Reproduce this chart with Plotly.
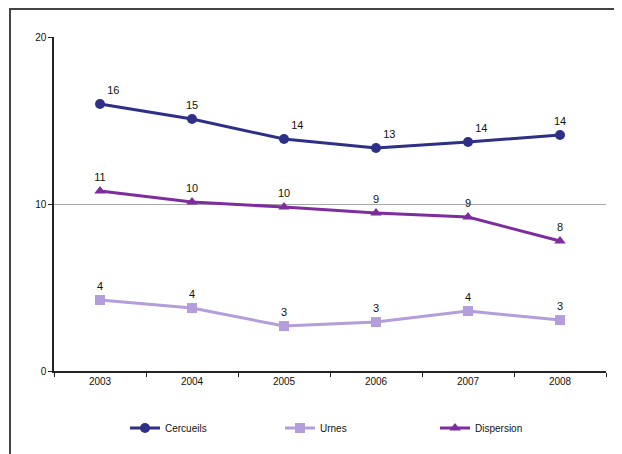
import plotly.graph_objects as go

years = ["2003", "2004", "2005", "2006", "2007", "2008"]
cercueils = [15.99, 15.09, 13.89, 13.35, 13.71, 14.13]
urnes = [4.25, 3.77, 2.69, 2.93, 3.59, 3.05]
dispersion = [10.78, 10.12, 9.82, 9.46, 9.22, 7.78]

series_names = ["Cercueils", "Urnes", "Dispersion"]
colors = ["#2E2F87", "#B39DDB", "#7D2D9E"]
symbols = ["circle", "square", "triangle-up"]

cerc_pos = ["top right", "top center", "top right", "top right", "top right", "top center"]

W, H = 614, 446
L, R, T, B = 46, 16, 29, 83
pw, ph = W - L - R, H - T - B

fig = go.Figure()
for name, vals, col, sym, pos in zip(series_names, [cercueils, urnes, dispersion], colors, symbols,
                                     [cerc_pos, "top center", "top center"]):
    fig.add_trace(go.Scatter(
        x=years, y=vals, name=name, mode="lines+markers+text",
        line=dict(color=col, width=3),
        marker=dict(color=col, symbol=sym, size=10),
        texttemplate="%{y:.0f}", textposition=pos,
        textfont=dict(family="Liberation Sans, Arial", size=11, color="#111111"),
        cliponaxis=False,
    ))

fig.update_layout(
    width=W, height=H,
    margin=dict(l=L, r=R, t=T, b=B),
    paper_bgcolor="white", plot_bgcolor="white",
    font=dict(family="Liberation Sans, Arial", size=10, color="#111111"),
    showlegend=True,
    legend=dict(orientation="h", x=(117 - L) / pw, xanchor="left", y=-57 / ph, yanchor="middle",
                entrywidth=110, font=dict(size=10), itemwidth=30),
    xaxis=dict(type="category", range=[-0.5, 5.5], showline=True, linecolor="#222222", linewidth=1.5,
               ticks="outside", tickson="boundaries", ticklen=4, tickcolor="#222222",
               showgrid=False, tickfont=dict(size=10, color="#111111")),
    yaxis=dict(range=[0, 20], tickvals=[0, 10, 20], showline=True, linecolor="#222222", linewidth=1.5,
               ticks="outside", ticklen=4, tickcolor="#222222", showgrid=True, gridcolor="#A8A8A8",
               gridwidth=1, zeroline=False, tickfont=dict(size=10, color="#111111")),
    shapes=[dict(type="rect", xref="paper", yref="paper",
                 x0=(2 - L) / pw, x1=(613 - L) / pw,
                 y0=(T + ph - 452) / ph, y1=1 + (T - 1) / ph,
                 line=dict(color="#444444", width=2))],
)

fig.write_html("out.html")
